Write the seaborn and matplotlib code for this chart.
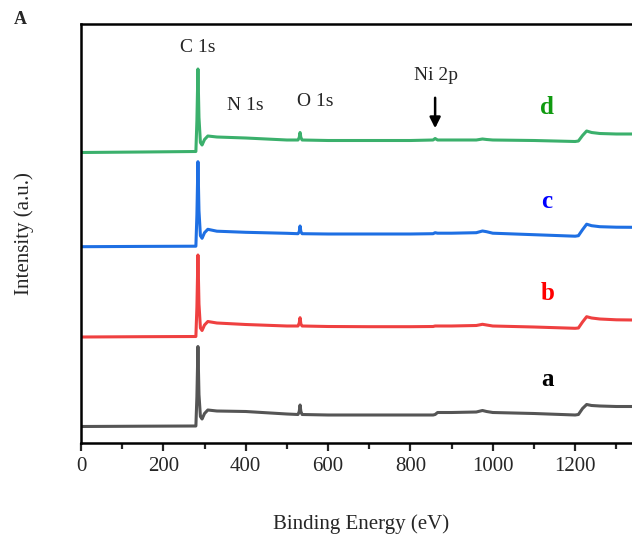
import numpy as np
import pandas as pd
import matplotlib
matplotlib.use("Agg")
import matplotlib.pyplot as plt
import seaborn as sns

# ---- data ----
energy = [0, 150, 279, 281.5, 284, 286.5, 290, 294, 300, 308,
          330, 400, 500, 527, 530, 532, 534, 537,
          600, 700, 800, 855, 860, 866, 900,
          960, 975, 985, 1000, 1100, 1200,
          1208, 1218, 1228, 1240, 1260, 1300, 1340]

int_a = [0, 0.3, 0.5, 30, 80, 32, 10, 7.5, 13, 16.5,
         15.5, 15, 12.5, 12, 15, 21.5, 15, 12,
         11.5, 11.5, 11.5, 11.5, 12, 14, 14,
         14.5, 16, 15, 14, 13, 11.5,
         12, 18, 22, 21, 20.5, 20, 20]
int_b = [0, 0.3, 0.5, 30, 82, 33, 9, 6.5, 12, 15.5,
         14, 12.5, 11, 11, 14, 19.3, 13, 11,
         10.5, 10.3, 10.3, 10.5, 11, 11, 11,
         11.5, 12.7, 12, 11, 10, 8.7,
         9, 15, 20.3, 19, 18, 17.2, 17]
int_c = [0, 0.3, 0.5, 32, 85, 36, 11, 8.4, 14, 17.4,
         15.5, 14.4, 13.4, 13, 15, 20.7, 15, 13,
         12.7, 12.7, 12.7, 13, 14, 13.5, 13.5,
         14, 15.7, 15, 13.5, 12, 10.5,
         11, 17, 22.5, 21, 20, 19.5, 19.4]
int_d = [0, 0.5, 1, 32, 83.5, 35, 10, 7.5, 13, 16.5,
         15.5, 14.5, 12.5, 12.5, 15, 20, 15, 12.5,
         12, 12, 12, 12.5, 14, 12.5, 12.5,
         12.5, 13.5, 13, 12.5, 12, 11,
         11.5, 17, 21.5, 20, 19, 18.5, 18.5]

samples = ["a", "b", "c", "d"]
offsets = [16.5, 106, 196.3, 290.5]
peak_labels = ["C 1s", "N 1s", "O 1s", "Ni 2p"]
x_ticks = [0, 200, 400, 600, 800, 1000, 1200]

line_colors = {"a": "#555555", "b": "#ef4040", "c": "#1e6fe3", "d": "#3bb06c"}
text_colors = {"a": "#000000", "b": "#ff0000", "c": "#0000ff", "d": "#109a10"}

series = {"a": int_a, "b": int_b, "c": int_c, "d": int_d}
rows = []
for s, off in zip(samples, offsets):
    for e, v in zip(energy, series[s]):
        rows.append({"Energy": e, "Intensity": v + off, "Sample": s})
df = pd.DataFrame(rows)

# ---- figure ----
sns.set_style("white")
plt.rcParams["font.family"] = ["Liberation Serif", "DejaVu Serif"]

fig = plt.figure(figsize=(6.32, 5.36), dpi=100)
ax = fig.add_axes([81 / 632, 93 / 536, 560 / 632, 419 / 536])

sns.lineplot(data=df, x="Energy", y="Intensity", hue="Sample",
             palette=line_colors, linewidth=2.2, legend=False, ax=ax,
             sort=False, estimator=None)

ax.set_xlim(0, 1360)
ax.set_ylim(0, 419)
ax.set_xticks(x_ticks)
ax.set_xticks(np.arange(100, 1400, 200), minor=True)
ax.set_yticks([])
ax.tick_params(axis="x", which="major", direction="out", length=6, width=1.6,
               labelsize=15, pad=4, bottom=True)
ax.tick_params(axis="x", which="minor", direction="out", length=4, width=1.6,
               bottom=True)
for sp in ax.spines.values():
    sp.set_linewidth(1.8)
    sp.set_color("black")

ax.set_xlabel("Binding Energy (eV)", fontsize=15)
ax.xaxis.set_label_coords(0.5, -0.170)
ax.set_ylabel("Intensity (a.u.)", fontsize=15)
ax.yaxis.set_label_coords(-0.084, 0.5)

# peak annotations
ax.text(284, 443 - 47, peak_labels[0], fontsize=14, ha="center", va="center")
ax.text(400, 443 - 106, peak_labels[1], fontsize=14, ha="center", va="center")
ax.text(570, 443 - 102, peak_labels[2], fontsize=14, ha="center", va="center")
ax.text(862, 443 - 76, peak_labels[3], fontsize=14, ha="center", va="center")
ax.annotate("", xy=(860, 443 - 131), xytext=(860, 443 - 95),
            arrowprops=dict(arrowstyle="-|>", color="black", lw=1.8,
                            mutation_scale=16))

label_y = {"a": 443 - 380, "b": 443 - 293, "c": 443 - 201, "d": 443 - 108}
for s in samples:
    ax.text(1132, label_y[s], s, fontsize=18, fontweight="bold",
            color=text_colors[s], ha="center", va="center")

fig.text(20 / 632, 1 - 20 / 536, "A", fontsize=13, fontweight="bold",
         ha="center", va="center")

fig.savefig("out.png", dpi=100)
